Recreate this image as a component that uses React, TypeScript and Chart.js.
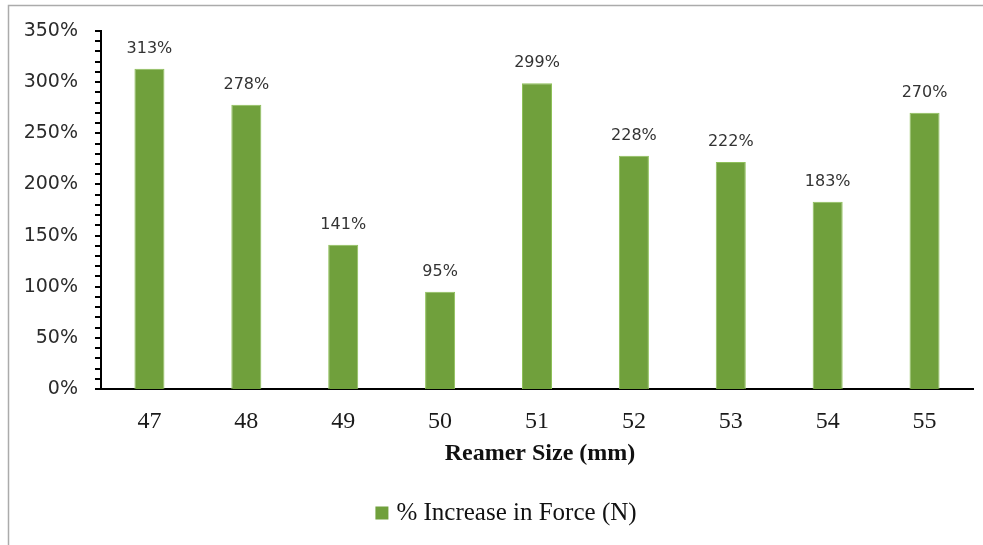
import React, { useEffect, useRef } from "react";
import { Chart, registerables } from "chart.js";

Chart.register(...registerables);

// Reamer sizes (mm) and the % increase in force measured for each
const reamerSizes = ["47", "48", "49", "50", "51", "52", "53", "54", "55"];
const forceIncrease = [313, 278, 141, 95, 299, 228, 222, 183, 270];
const seriesLabel = "% Increase in Force (N)";
const xAxisTitle = "Reamer Size (mm)";
const yMax = 350;
const yStep = 50;
const yMinorStep = 10;

const BAR_FILL = "#70a03c";
const BAR_EDGE = "#8fc05a";
const SERIF = "'Liberation Serif', 'Times New Roman', serif";
const SANS = "'DejaVu Sans', Verdana, sans-serif";

// Frame, minor/major y ticks, value labels, x-axis title and legend
const decorations = {
  id: "decorations",
  afterDatasetsDraw(chart: any) {
    const { ctx } = chart;
    const meta = chart.getDatasetMeta(0);
    const data = chart.data.datasets[0].data as number[];
    ctx.save();
    ctx.fillStyle = "#333";
    ctx.font = `16px ${SANS}`;
    ctx.textAlign = "center";
    ctx.textBaseline = "middle";
    meta.data.forEach((bar: any, i: number) => {
      ctx.fillText(`${data[i]}%`, bar.x, bar.y - 20);
    });
    ctx.restore();
  },
  afterDraw(chart: any) {
    const { ctx, chartArea } = chart;
    const yScale = chart.scales.y;
    ctx.save();

    // outer frame (top and left edges)
    ctx.strokeStyle = "#ababab";
    ctx.lineWidth = 1.5;
    ctx.beginPath();
    ctx.moveTo(8.5, chart.height);
    ctx.lineTo(8.5, 5.5);
    ctx.lineTo(chart.width, 5.5);
    ctx.stroke();

    // tick marks every 10%, outside the y axis
    ctx.strokeStyle = "#000";
    ctx.lineWidth = 2;
    for (let v = 0; v <= yMax; v += yMinorStep) {
      const y = Math.round(yScale.getPixelForValue(v));
      ctx.beginPath();
      ctx.moveTo(chartArea.left - 6, y);
      ctx.lineTo(chartArea.left, y);
      ctx.stroke();
    }

    // x-axis title
    const cx = (chartArea.left + chartArea.right) / 2;
    ctx.fillStyle = "#111";
    ctx.font = `bold 24px ${SERIF}`;
    ctx.textAlign = "center";
    ctx.textBaseline = "middle";
    ctx.fillText(xAxisTitle, cx + 3, 454);

    // legend
    ctx.font = `25px ${SERIF}`;
    const tw = ctx.measureText(seriesLabel).width;
    const box = 13;
    const gap = 8;
    const total = box + gap + tw;
    const lx = cx - total / 2 - 31;
    const ly = 513;
    ctx.fillStyle = BAR_FILL;
    ctx.fillRect(lx, ly - box / 2, box, box);
    ctx.fillStyle = "#111";
    ctx.textAlign = "left";
    ctx.fillText(seriesLabel, lx + box + gap, ly);

    ctx.restore();
  },
};

export default function App() {
  const canvasRef = useRef<HTMLCanvasElement | null>(null);

  useEffect(() => {
    if (!canvasRef.current) return;
    const chart = new Chart(canvasRef.current, {
      type: "bar",
      data: {
        labels: reamerSizes,
        datasets: [
          {
            label: seriesLabel,
            data: forceIncrease,
            backgroundColor: BAR_FILL,
            borderColor: BAR_EDGE,
            borderWidth: 1,
            categoryPercentage: 1,
            barPercentage: 0.31,
          },
        ],
      },
      options: {
        responsive: false,
        animation: false,
        devicePixelRatio: 1,
        layout: { padding: { left: 0, top: 31, right: 10, bottom: 0 } },
        plugins: {
          legend: { display: false },
          tooltip: { enabled: false },
        },
        scales: {
          x: {
            grid: { display: false },
            border: { display: true, color: "#000", width: 2 },
            ticks: {
              color: "#1a1a1a",
              font: { family: SERIF, size: 24 },
              padding: 10,
              maxRotation: 0,
            },
            afterFit(scale: any) {
              scale.height = 156;
            },
          },
          y: {
            min: 0,
            max: yMax,
            grid: { display: false },
            border: { display: true, color: "#000", width: 2 },
            ticks: {
              stepSize: yStep,
              color: "#2b2b2b",
              font: { family: SANS, size: 19 },
              padding: 15,
              callback: (v: any) => `${v}%`,
            },
            afterFit(scale: any) {
              scale.width = 101;
            },
          },
        },
      },
      plugins: [decorations],
    });
    return () => chart.destroy();
  }, []);

  return (
    <div style={{ position: "absolute", left: 0, top: 0, width: 983, height: 545, background: "#fff" }}>
      <canvas ref={canvasRef} width={983} height={545} style={{ display: "block" }} />
    </div>
  );
}
